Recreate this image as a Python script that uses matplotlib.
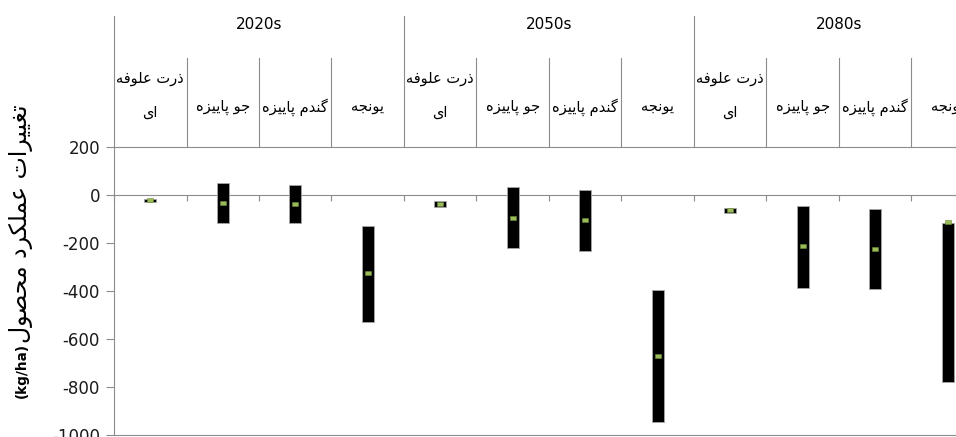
import matplotlib
matplotlib.use("Agg")
import matplotlib.pyplot as plt
import matplotlib.transforms as mtrans

# ---- data ----
decades = ["2020s", "2050s", "2080s"]
crops = ["ذرت علوفه\nای", "جو پاییزه", "گندم پاییزه", "یونجه"]
max_vals = [-17, 49, 43, -128, -26, 32, 22, -395, -53, -45, -58, -118]
min_vals = [-28, -118, -118, -530, -51, -222, -234, -947, -74, -389, -394, -779]
mean_vals = [-22, -32, -38, -327, -39, -95, -104, -671, -63, -213, -225, -114]
y_ticks = [-1000, -800, -600, -400, -200, 0, 200]
y_label_fa = "تغییرات عملکرد محصول"
y_label_unit = "(kg/ha)"

# ---- tiny persian shaper (matplotlib has no bidi / joining) ----
FORMS = {
    "ا": ("\uFE8D", "\uFE8E"),
    "د": ("\uFEA9", "\uFEAA"),
    "ذ": ("\uFEAB", "\uFEAC"),
    "ر": ("\uFEAD", "\uFEAE"),
    "ز": ("\uFEAF", "\uFEB0"),
    "و": ("\uFEED", "\uFEEE"),
    "ت": ("\uFE95", "\uFE96", "\uFE97", "\uFE98"),
    "ج": ("\uFE9D", "\uFE9E", "\uFE9F", "\uFEA0"),
    "ح": ("\uFEA1", "\uFEA2", "\uFEA3", "\uFEA4"),
    "ص": ("\uFEB9", "\uFEBA", "\uFEBB", "\uFEBC"),
    "ع": ("\uFEC9", "\uFECA", "\uFECB", "\uFECC"),
    "غ": ("\uFECD", "\uFECE", "\uFECF", "\uFED0"),
    "ف": ("\uFED1", "\uFED2", "\uFED3", "\uFED4"),
    "ل": ("\uFEDD", "\uFEDE", "\uFEDF", "\uFEE0"),
    "م": ("\uFEE1", "\uFEE2", "\uFEE3", "\uFEE4"),
    "ن": ("\uFEE5", "\uFEE6", "\uFEE7", "\uFEE8"),
    "ه": ("\uFEE9", "\uFEEA", "\uFEEB", "\uFEEC"),
    "پ": ("\uFB56", "\uFB57", "\uFB58", "\uFB59"),
    "ک": ("\uFB8E", "\uFB8F", "\uFB90", "\uFB91"),
    "گ": ("\uFB92", "\uFB93", "\uFB94", "\uFB95"),
    "ی": ("\uFBFC", "\uFBFD", "\uFBFE", "\uFBFF"),
}


def fa(s):
    out = []
    for i, ch in enumerate(s):
        f = FORMS.get(ch)
        if f is None:
            out.append(ch)
            continue
        prev = s[i - 1] if i > 0 else ""
        nxt = s[i + 1] if i + 1 < len(s) else ""
        jp = prev in FORMS and len(FORMS[prev]) == 4
        jn = len(f) == 4 and nxt in FORMS
        if jp and jn:
            out.append(f[3])
        elif jp:
            out.append(f[1])
        elif jn:
            out.append(f[2])
        else:
            out.append(f[0])
    return "".join(reversed(out))


plt.rcParams["font.family"] = ["DejaVu Sans"]
GRAY = "#8c8c8c"

W, H = 956, 437
fig = plt.figure(figsize=(W / 100, H / 100), dpi=100)
top_px, bot_px, left_px, right_px = 147, 434.5, 114, 984
ax = fig.add_axes([left_px / W, (H - bot_px) / H,
                   (right_px - left_px) / W, (bot_px - top_px) / H])

n = len(decades) * len(crops)
xs = [i + 0.5 for i in range(n)]

ax.bar(xs, [a - b for a, b in zip(max_vals, min_vals)], bottom=min_vals,
       width=0.16, color="black", edgecolor="#a6a6a6", linewidth=0.6, zorder=3)
rect = [(-1, -0.55), (1, -0.55), (1, 0.55), (-1, 0.55), (-1, -0.55)]
ax.plot(xs, mean_vals, linestyle="none", marker=rect, markersize=4.4,
        markerfacecolor="#9bbb59", markeredgecolor="#6b8a35",
        markeredgewidth=0.4, zorder=4)

ax.set_xlim(0, n)
ax.set_ylim(-1000, 200)
ax.set_yticks(y_ticks)
ax.set_yticklabels([str(v) for v in y_ticks])
ax.tick_params(axis="y", direction="out", length=6, width=0.8, color=GRAY,
               labelsize=12, pad=4, labelcolor="#1a1a1a")
ax.set_xticks(range(n + 1))
ax.set_xticklabels([])
ax.tick_params(axis="x", direction="out", length=4.5, width=0.8, color=GRAY)
ax.spines["bottom"].set_position(("data", 0))
ax.spines["right"].set_visible(False)
for s in ("left", "top", "bottom"):
    ax.spines[s].set_color(GRAY)
    ax.spines[s].set_linewidth(0.8)
ax.axhline(-1000, color=GRAY, linewidth=0.8, clip_on=False)

# ---- header table above the plot ----
bt = mtrans.blended_transform_factory(ax.transData, ax.transAxes)
ph = bot_px - top_px


def fy(px):
    return (bot_px - px) / ph


head_top, crop_top = fy(16), fy(58)
for k in range(n + 1):
    y2 = head_top if k % len(crops) == 0 else crop_top
    ax.plot([k, k], [1, y2], color=GRAY, linewidth=0.8, transform=bt,
            clip_on=False)

for d, name in enumerate(decades):
    ax.text(d * len(crops) + len(crops) / 2, fy(25), name, transform=bt,
            ha="center", va="center", fontsize=11, clip_on=False)
    for c, crop in enumerate(crops):
        x = d * len(crops) + c + 0.5
        lines = crop.split("\n")
        ys = [fy(107)] if len(lines) == 1 else [fy(79), fy(112)]
        for line, yy in zip(lines, ys):
            ax.text(x, yy, fa(line), transform=bt, ha="center", va="center",
                    fontsize=10.5, clip_on=False)

# y label: unit in bold at the bottom, persian words above it
fig.text(21 / W, (H - 343) / H, fa(y_label_fa), rotation=90,
         ha="center", va="bottom", fontsize=17)
fig.text(22 / W, (H - 343) / H, y_label_unit, rotation=90,
         ha="center", va="top", fontsize=9.8, fontweight="bold")

fig.savefig("out.png", dpi=100)
